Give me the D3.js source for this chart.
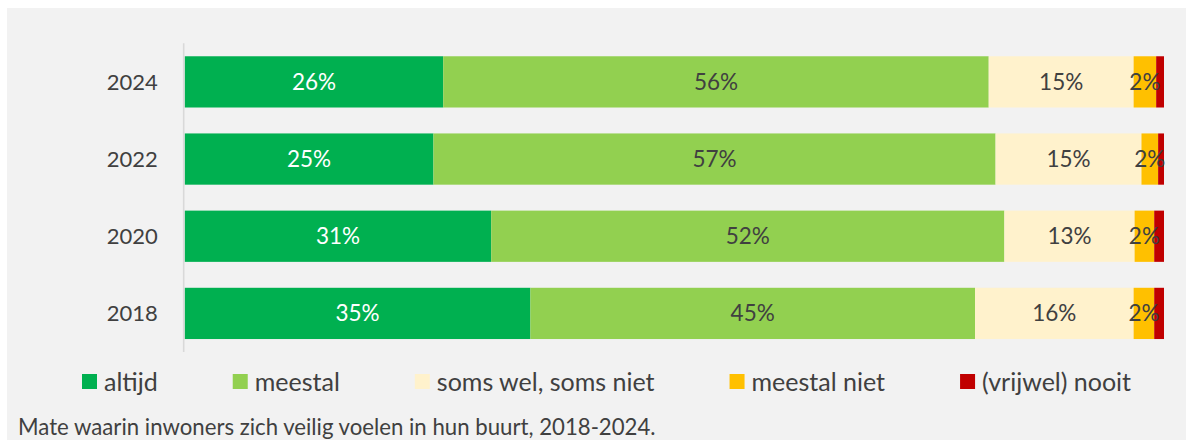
<!DOCTYPE html>
<html>
<head>
<meta charset="utf-8">
<script src="https://cdn.jsdelivr.net/npm/d3@7"></script>
<style>
  html, body { margin: 0; padding: 0; background: #ffffff; }
  svg { display: block; }
  text { font-family: Lato, "Open Sans", sans-serif; }
</style>
</head>
<body>
<svg id="chart" width="1186" height="440"></svg>
<script>
// Survey years, top to bottom
const years = ["2024", "2022", "2020", "2018"];

// Answer categories (stack order, left to right)
const categories = ["altijd", "meestal", "soms wel, soms niet", "meestal niet", "(vrijwel) nooit"];
const colors = ["#00b050", "#92d050", "#fff2cc", "#ffc000", "#c00000"];

// Share of residents per answer, in percent, one array per category (order follows `years`)
const altijd      = [26.4, 25.4, 31.3, 35.3];
const meestal     = [55.7, 57.4, 52.4, 45.4];
const somsWelNiet = [14.8, 14.9, 13.3, 16.2];
const meestalNiet = [2.3, 1.7, 2.0, 2.1];
const nooit       = [0.8, 0.6, 1.0, 1.0];

// Only these categories carry a value label
const labelled = [true, true, true, true, false];

const caption = "Mate waarin inwoners zich veilig voelen in hun buurt, 2018-2024.";

const seriesValues = [altijd, meestal, somsWelNiet, meestalNiet, nooit];
const rows = years.map((y, i) => {
  const r = { year: y };
  categories.forEach((c, k) => { r[c] = seriesValues[k][i]; });
  return r;
});

const svg = d3.select("#chart");
const W = 1186, H = 440;

// panel background
svg.append("rect").attr("x", 7).attr("y", 8).attr("width", W - 7).attr("height", H - 8)
  .attr("fill", "#f2f2f2");

const plot = { left: 184.7, right: 1164, top: 43.3, bottom: 352 };

const x = d3.scaleLinear().domain([0, 100]).range([plot.left, plot.right]);
const y = d3.scaleBand().domain(years).range([plot.top, plot.bottom]).paddingInner(0.336).paddingOuter(0.168);

const stacked = d3.stack().keys(categories)(rows);

const fmt = v => d3.format(".0f")(v) + "%";

// bars
const layers = svg.append("g").selectAll("g").data(stacked).join("g")
  .attr("fill", (d, i) => colors[i]);

layers.selectAll("rect").data(d => d).join("rect")
  .attr("x", d => x(d[0]))
  .attr("y", d => y(d.data.year))
  .attr("width", d => x(d[1]) - x(d[0]))
  .attr("height", y.bandwidth());

// value labels
stacked.forEach((layer, i) => {
  if (!labelled[i]) return;
  svg.append("g").selectAll("text").data(layer).join("text")
    .attr("x", d => (x(d[0]) + x(d[1])) / 2)
    .attr("y", d => y(d.data.year) + y.bandwidth() / 2)
    .attr("dy", "0.35em")
    .attr("text-anchor", "middle")
    .attr("font-size", 22.5)
    .attr("fill", i === 0 ? "#ffffff" : "#404040")
    .text(d => fmt(d[1] - d[0]));
});

// category axis
const yAxis = svg.append("g").attr("transform", `translate(${plot.left - 1},0)`)
  .call(d3.axisLeft(y).tickSize(0).tickPadding(26));
yAxis.select(".domain").attr("stroke", "#d9d9d9").attr("stroke-width", 1.6)
  .attr("d", `M0,${plot.top}V${plot.bottom}`);
yAxis.selectAll("text").attr("font-size", 22).attr("fill", "#404040")
  .attr("font-family", "Lato, sans-serif").attr("dy", "0.35em");

// legend
const legend = svg.append("g").attr("transform", "translate(82,0)");
let lx = 0;
categories.forEach((c, i) => {
  const g = legend.append("g").attr("transform", `translate(${lx},0)`);
  g.append("rect").attr("x", 0).attr("y", 374).attr("width", 15).attr("height", 15).attr("fill", colors[i]);
  const t = g.append("text").attr("x", 22).attr("y", 390.5).attr("font-size", 25).attr("fill", "#404040").text(c);
  lx += 22 + t.node().getComputedTextLength() + 75;
});

// caption
svg.append("text").attr("x", 18).attr("y", 434.5).attr("font-size", 22.2).attr("fill", "#404040").text(caption);
</script>
</body>
</html>
